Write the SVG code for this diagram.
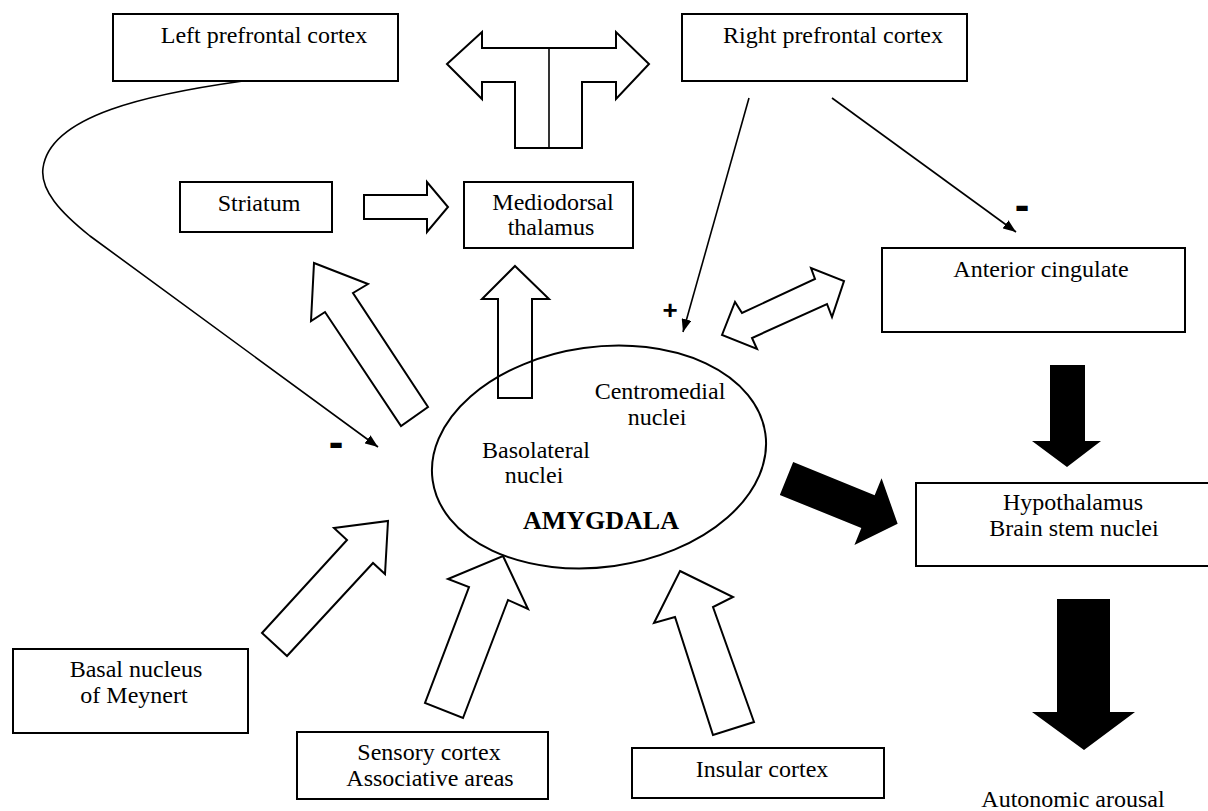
<svg xmlns="http://www.w3.org/2000/svg" width="1208" height="811" viewBox="0 0 1208 811">
<style>
.box{fill:#fff;stroke:#000;stroke-width:2}
.hol{fill:#fff;stroke:#000;stroke-width:2;stroke-linejoin:miter}
.blk{fill:#000;stroke:none}
.ln{fill:none;stroke:#000;stroke-width:1.6}
.t{font-family:"Liberation Serif","Times New Roman",serif;font-size:24px;fill:#000;text-anchor:middle}
.b{font-weight:bold;font-size:26px}
.sg{font-family:"Liberation Sans",Arial,sans-serif;font-weight:bold;fill:#000;text-anchor:middle}
</style>
<defs>
<marker id="ah" markerUnits="userSpaceOnUse" markerWidth="14" markerHeight="10" refX="13" refY="5" orient="auto">
<path d="M0,0 L13,5 L0,10 z" fill="#000"/>
</marker>
</defs>
<rect width="1208" height="811" fill="#fff"/>

<g id="connectors">
<path class="ln" d="M243,81 C150,94 50,115 43,168 C40,190 60,212 90,236 L378,447" marker-end="url(#ah)"/>
<line class="ln" x1="749" y1="98" x2="683" y2="332" marker-end="url(#ah)"/>
<line class="ln" x1="832" y1="98" x2="1016" y2="232" marker-end="url(#ah)"/>
<polygon class="hol" points="447,64 482,32 482,48 616,48 616,32 649,64 616,99 616,82 582,82 582,148 515,148 515,82 482,82 482,99"/>
<line class="ln" x1="549" y1="48" x2="549" y2="148"/>
<polygon class="hol" points="364,195 427,195 427,182 448,207 427,232 427,219 364,219"/>
<polygon class="hol" points="515,266 549,299 532,299 532,398 498,398 498,299 482,299"/>
<polygon class="hol" points="314,263 368,284 353,293 428,407 401,426 325,312 311,321"/>
<polygon class="hol" points="722,335 735,302 742,313 815,279 811,268 844,281 832,317 827,304 752,338 757,349"/>
<polygon class="blk" points="1050,365 1085,365 1085,441 1101,441 1067,467 1032,441 1050,441"/>
<polygon class="blk" points="1057,599 1110,599 1110,712 1135,712 1084,750 1032,712 1057,712"/>
<polygon class="blk" transform="translate(786.5,478.5) rotate(22.15)" points="0,-17.7 88,-17.7 88,-36 120,0 88,36 88,17.7 0,17.7"/>
<polygon class="hol" points="388,521 385,574 373,563 287,656 262,633 347,540 334,528"/>
<polygon class="hol" points="503,556 528,609 508,600 463,718 425,703 469,587 448,579"/>
<polygon class="hol" points="680,571 733,597 713,607 754,722 713,735 675,617 654,623"/>
<text class="sg" x="670" y="319" font-size="26">+</text>
<text class="sg" x="336" y="457" font-size="44">-</text>
<text class="sg" x="1022" y="220" font-size="44">-</text>
</g>

<g id="left-prefrontal">
<rect class="box" x="113" y="14" width="285" height="67"/>
<text class="t" x="264" y="43">Left prefrontal cortex</text>
</g>
<g id="right-prefrontal">
<rect class="box" x="682" y="14" width="285" height="67"/>
<text class="t" x="833" y="43">Right prefrontal cortex</text>
</g>
<g id="striatum">
<rect class="box" x="180" y="182" width="152" height="50"/>
<text class="t" x="259" y="211">Striatum</text>
</g>
<g id="mediodorsal">
<rect class="box" x="464" y="182" width="169" height="66"/>
<text class="t" x="553" y="210">Mediodorsal</text>
<text class="t" x="551" y="235">thalamus</text>
</g>
<g id="anterior-cingulate">
<rect class="box" x="882" y="248" width="303" height="84"/>
<text class="t" x="1041" y="277">Anterior cingulate</text>
</g>
<g id="amygdala">
<ellipse cx="599" cy="457" rx="168" ry="110" transform="rotate(-8 599 457)" fill="none" stroke="#000" stroke-width="2"/>
<text class="t" x="660" y="399">Centromedial</text>
<text class="t" x="657" y="425">nuclei</text>
<text class="t" x="536" y="458">Basolateral</text>
<text class="t" x="534" y="483">nuclei</text>
<text class="t b" x="601" y="529">AMYGDALA</text>
</g>
<g id="hypothalamus">
<rect class="box" x="916" y="483" width="320" height="83"/>
<text class="t" x="1073" y="510">Hypothalamus</text>
<text class="t" x="1074" y="536">Brain stem nuclei</text>
</g>
<g id="autonomic">
<text class="t" x="1073" y="807">Autonomic arousal</text>
</g>
<g id="basal-meynert">
<rect class="box" x="13" y="649" width="235" height="84"/>
<text class="t" x="136" y="677">Basal nucleus</text>
<text class="t" x="134" y="703">of Meynert</text>
</g>
<g id="sensory">
<rect class="box" x="297" y="732" width="251" height="67"/>
<text class="t" x="429" y="760">Sensory cortex</text>
<text class="t" x="430" y="786">Associative areas</text>
</g>
<g id="insular">
<rect class="box" x="632" y="748" width="252" height="50"/>
<text class="t" x="762" y="777">Insular cortex</text>
</g>
</svg>
